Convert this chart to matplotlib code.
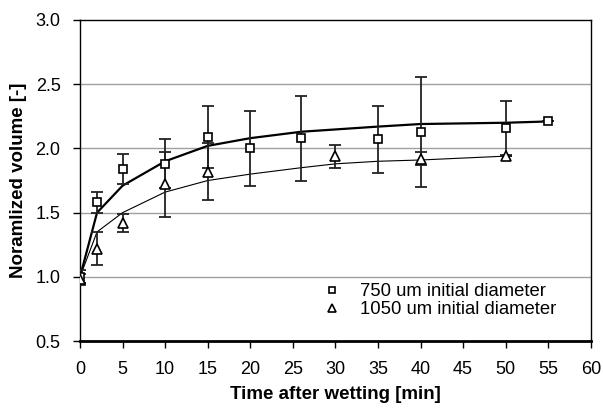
import matplotlib.pyplot as plt

plt.rcParams['font.family'] = ['Liberation Sans', 'DejaVu Sans']

# 750 um data
sq_t = [0, 2, 5, 10, 15, 20, 26, 35, 40, 50, 55]
sq_v = [1.00, 1.58, 1.84, 1.88, 2.09, 2.00, 2.08, 2.07, 2.13, 2.16, 2.21]
sq_err = [0.05, 0.08, 0.12, 0.19, 0.24, 0.29, 0.33, 0.26, 0.43, 0.21, 0.0]
sq_fit = [1.00, 1.50, 1.71, 1.90, 2.02, 2.08, 2.13, 2.17, 2.19, 2.20, 2.21]

# 1050 um data
tr_t = [0, 2, 5, 10, 15, 30, 40, 50]
tr_v = [0.98, 1.22, 1.42, 1.72, 1.82, 1.94, 1.92, 1.94]
tr_err = [0.04, 0.13, 0.07, 0.25, 0.22, 0.09, 0.05, 0.0]
tr_fit_t = [0, 2, 5, 10, 15, 20, 26, 30, 35, 40, 50]
tr_fit = [1.00, 1.35, 1.50, 1.66, 1.75, 1.80, 1.85, 1.88, 1.90, 1.91, 1.94]

fig = plt.figure(figsize=(6.03, 4.08), dpi=100)
ax = fig.add_axes([0.1327, 0.164, 0.847, 0.787])

# grid lines
for yv in [1.0, 1.5, 2.0, 2.5]:
    ax.axhline(yv, color='#a0a0a0', lw=1, zorder=0)

# fitted curves
ax.plot(sq_t, sq_fit, color='black', lw=1.6, zorder=2)
ax.plot(tr_fit_t, tr_fit, color='black', lw=0.8, zorder=2)

# error bars and markers
ax.errorbar(sq_t, sq_v, yerr=sq_err, fmt='none', ecolor='#222222',
            elinewidth=1.3, capsize=4, capthick=1.3, zorder=3)
ax.errorbar(tr_t, tr_v, yerr=tr_err, fmt='none', ecolor='#222222',
            elinewidth=1.3, capsize=4, capthick=1.3, zorder=3)
ax.plot(sq_t, sq_v, 's', ms=6, mfc='white', mec='black', mew=1.2,
        label='750 um initial diameter', zorder=4)
ax.plot(tr_t, tr_v, '^', ms=6.5, mfc='white', mec='black', mew=1.2,
        label='1050 um initial diameter', zorder=4)

ax.set_xlim(0, 60)
ax.set_ylim(0.5, 3.0)
ax.set_xticks(range(0, 61, 5))
ax.set_yticks([0.5, 1.0, 1.5, 2.0, 2.5, 3.0])
ax.set_yticklabels(['0.5', '1.0', '1.5', '2.0', '2.5', '3.0'])
ax.tick_params(axis='both', direction='out', length=5, width=1,
               labelsize=13, color='black')
ax.tick_params(axis='x', pad=9)
ax.tick_params(axis='y', pad=9)

for s in ax.spines.values():
    s.set_color('black')
    s.set_linewidth(1)
ax.spines['bottom'].set_linewidth(2)

ax.set_xlabel('Time after wetting [min]', fontsize=13.5, fontweight='bold',
              labelpad=6)
ax.set_ylabel('Noramlized volume [-]', fontsize=13.5, fontweight='bold',
              labelpad=6)

ax.legend(loc='lower right', bbox_to_anchor=(0.965, 0.02), frameon=False,
          fontsize=13.3, handlelength=1.0, handletextpad=1.0,
          labelspacing=0.05, markerscale=0.8)

plt.savefig('out.png')
